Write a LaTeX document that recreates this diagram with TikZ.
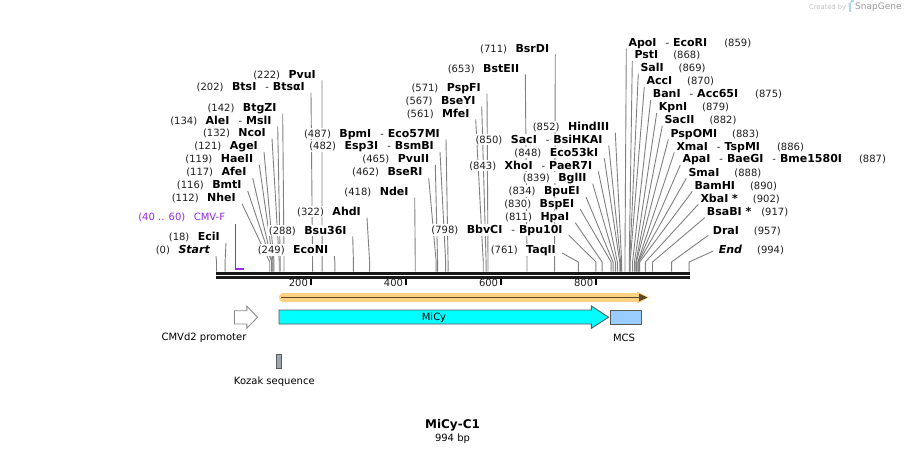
\documentclass[tikz,border=0pt]{standalone}
\usepackage{fontspec}
\setmainfont{DejaVu Sans}
\usetikzlibrary{calc}
\pgfdeclarelayer{bg}
\pgfsetlayers{bg,main}
\definecolor{numc}{RGB}{30,30,30}
\definecolor{leadc}{RGB}{128,128,128}
\definecolor{primc}{RGB}{150,40,230}
\definecolor{featc}{RGB}{90,90,90}
\definecolor{mcsblue}{RGB}{153,204,255}
\definecolor{kozakc}{RGB}{160,166,174}
\definecolor{orfl}{RGB}{255,210,130}
\definecolor{orfd}{RGB}{90,70,40}
\definecolor{micyc}{RGB}{0,255,255}
\definecolor{wmblue}{RGB}{168,216,240}
\newcommand\enz[1]{{\fontsize{11}{12}\selectfont\bfseries\color{black}#1}}
\newcommand\enzsep{\hspace{9pt}-\hspace{4pt}}
\newcommand\lgap{\hspace{8.5pt}}
\newcommand\rgap{\hspace{15pt}}
\tikzset{
  lbl/.style={inner xsep=1pt, inner ysep=1pt, fill=white, text height=8.5pt, text depth=1pt,
    font=\fontsize{10}{12}\selectfont, text=numc},
  lead/.style={draw=leadc, line width=0.9pt},
  feat/.style={draw=featc, line width=0.9pt},
  plain/.style={inner sep=0pt, font=\fontsize{10}{12}\selectfont, text=black}
}
\newcommand\siteL[6]{%
  \coordinate (s#1) at ({216.5+0.4755*#2},271.5);
  \node[lbl,anchor=east] (l#1) at ({#3+1},#4) {#6};
  \begin{pgfonlayer}{bg}
    \draw[lead] ($(l#1.east)+(5,#5)$) -- ($(s#1)+(0,-9.5)$) -- (s#1);
  \end{pgfonlayer}}
\newcommand\siteR[7]{%
  \coordinate (s#1) at ({216.5+0.4755*#2},271.5);
  \node[lbl,anchor=west] (l#1) at ({#3-1},#4) {#7};
  \begin{pgfonlayer}{bg}
    \draw[lead] ($(l#1.west)+(#5,#6)$) -- ($(s#1)+(0,-9.5)$) -- (s#1);
  \end{pgfonlayer}}
\begin{document}
\begin{tikzpicture}[x=1pt,y=-1pt]
\useasboundingbox (0,0) rectangle (906,455);
% watermark
\node[anchor=west, inner sep=0pt, text=black!25, font=\fontsize{6.7}{8}\selectfont] (wm1) at (809,7.3) {Created by};
\fill[wmblue] (848.5,2.5) rectangle (851,12);
\fill[wmblue] (848.5,2.5) -- (852,2.5) arc (90:-90:2.2 and 2.4) -- (848.5,7.3) -- cycle;
\node[anchor=west, inner sep=0pt, text=black!40, font=\fontsize{9}{10}\selectfont] (wm2) at (855,7.3) {SnapGene};
% baseline
\coordinate (b0) at (216,273.2);
\coordinate (b1) at (689.5,273.2);
\coordinate (c0) at (216,277.4);
\coordinate (c1) at (689.5,277.4);
\draw[line width=3pt, black!90] (b0) -- (b1);
\draw[line width=2.6pt, black!90] (c0) -- (c1);
% ticks
\foreach \t in {200,400,600,800}{
  \coordinate (t\t) at ({216.5+0.4755*\t-1},279.3);
  \draw[line width=2pt, black] (t\t) -- ++(0,5.7);
  \node[plain, anchor=east, text=numc] (tl\t) at ($(t\t)+(-2.5,3.6)$) {\t};
}
% left-hand sites
\siteL{a}{0}{210}{250}{6}{(0)\lgap\enz{\itshape Start}}
\siteL{b}{18}{220}{236.7}{6}{(18)\lgap\enz{EciI}}
\siteL{c}{112}{236}{197.7}{6}{(112)\lgap\enz{NheI}}
\siteL{d}{116}{241.7}{185}{6}{(116)\lgap\enz{BmtI}}
\siteL{e}{117}{246.7}{172}{6}{(117)\lgap\enz{AfeI}}
\siteL{f}{119}{253.3}{159}{6}{(119)\lgap\enz{HaeII}}
\siteL{g}{121}{258}{146}{6}{(121)\lgap\enz{AgeI}}
\siteL{h}{132}{266}{132.7}{6}{(132)\lgap\enz{NcoI}}
\siteL{i}{134}{271.7}{120.3}{6}{(134)\lgap\enz{AleI}\enzsep\enz{MslI}}
\siteL{j}{142}{276.7}{107.7}{6}{(142)\lgap\enz{BtgZI}}
\siteL{k}{202}{305}{86.7}{6}{(202)\lgap\enz{BtsI}\enzsep\enz{BtsαI}}
\siteL{l}{222}{316}{74.3}{6}{(222)\lgap\enz{PvuI}}
\siteL{m}{249}{328.3}{250}{6}{(249)\lgap\enz{EcoNI}}
\siteL{n}{288}{346.7}{230.3}{6}{(288)\lgap\enz{Bsu36I}}
\siteL{o}{322}{361}{211.7}{6}{(322)\lgap\enz{AhdI}}
\siteL{p}{418}{408.7}{191.7}{6}{(418)\lgap\enz{NdeI}}
\siteL{q}{462}{422.7}{172}{6}{(462)\lgap\enz{BseRI}}
\siteL{r}{465}{429.3}{159}{6}{(465)\lgap\enz{PvuII}}
\siteL{s}{482}{434}{146}{6}{(482)\lgap\enz{Esp3I}\enzsep\enz{BsmBI}}
\siteL{t}{487}{440}{133.3}{6}{(487)\lgap\enz{BpmI}\enzsep\enz{Eco57MI}}
\siteL{u}{561}{469.7}{113.3}{6}{(561)\lgap\enz{MfeI}}
\siteL{v}{567}{475.7}{100.3}{6}{(567)\lgap\enz{BseYI}}
\siteL{w}{571}{481}{87.7}{6}{(571)\lgap\enz{PspFI}}
\siteL{x}{653}{519.3}{68.3}{6}{(653)\lgap\enz{BstEII}}
\siteL{y}{711}{549.3}{48.3}{6}{(711)\lgap\enz{BsrDI}}
\siteL{z}{761}{556}{250}{3}{(761)\lgap\enz{TaqII}}
\siteL{aa}{798}{562.7}{230}{5}{(798)\lgap\enz{BbvCI}\enzsep\enz{Bpu10I}}
\siteL{ab}{811}{569.3}{216.7}{6}{(811)\lgap\enz{HpaI}}
\siteL{ac}{830}{574.3}{203.3}{6}{(830)\lgap\enz{BspEI}}
\siteL{ad}{834}{580}{191}{6}{(834)\lgap\enz{BpuEI}}
\siteL{ae}{839}{586.7}{177.7}{6}{(839)\lgap\enz{BglII}}
\siteL{af}{843}{592.3}{165.3}{6}{(843)\lgap\enz{XhoI}\enzsep\enz{PaeR7I}}
\siteL{ag}{848}{598.3}{152.3}{6}{(848)\lgap\enz{Eco53kI}}
\siteL{ah}{850}{602.7}{139.3}{6}{(850)\lgap\enz{SacI}\enzsep\enz{BsiHKAI}}
\siteL{ai}{852}{609.3}{126.7}{6}{(852)\lgap\enz{HindIII}}
% right-hand sites
\siteR{ra}{859}{628.3}{42.7}{-1}{6}{\enz{ApoI}\enzsep\enz{EcoRI}\hspace{17pt}(859)}
\siteR{rb}{868}{634.3}{55}{-1}{6}{\enz{PstI}\rgap(868)}
\siteR{rc}{869}{640.3}{67.7}{-1}{6}{\enz{SalI}\rgap(869)}
\siteR{rd}{870}{646.3}{81}{-1}{6}{\enz{AccI}\rgap(870)}
\siteR{re}{875}{652.7}{94}{-1}{6}{\enz{BanI}\enzsep\enz{Acc65I}\hspace{17pt}(875)}
\siteR{rf}{879}{658.7}{107}{-1}{6}{\enz{KpnI}\rgap(879)}
\siteR{rg}{882}{664.3}{119.7}{-1}{6}{\enz{SacII}\rgap(882)}
\siteR{rh}{883}{670.3}{133.3}{-1}{6}{\enz{PspOMI}\rgap(883)}
\siteR{ri}{886}{676.3}{146.3}{-1}{6}{\enz{XmaI}\enzsep\enz{TspMI}\hspace{17pt}(886)}
\siteR{rj}{887}{682.3}{159}{-1}{6}{\enz{ApaI}\enzsep\enz{BaeGI}\enzsep\enz{Bme1580I}\hspace{17pt}(887)}
\siteR{rk}{888}{688.3}{172.3}{-1}{6}{\enz{SmaI}\rgap(888)}
\siteR{rl}{890}{694.3}{185.3}{-1}{6}{\enz{BamHI}\rgap(890)}
\siteR{rm}{902}{700.3}{198.3}{-1}{6}{\enz{XbaI *}\rgap(902)}
\siteR{rn}{917}{706.7}{211.7}{-1}{6}{\enz{BsaBI *}\hspace{10pt}(917)}
\siteR{ro}{957}{712.7}{230.3}{-3.4}{5}{\enz{DraI}\rgap(957)}
\siteR{rp}{994}{718.7}{250}{-4.4}{1}{\enz{\itshape End}\rgap(994)}
% primer CMV-F
\node[lbl, anchor=east, text=primc] (lcmv) at (226.3,216.7) {(40 .. 60)\lgap CMV-F};
\coordinate (p0) at (235.3,224);
\coordinate (p1) at (235.3,269);
\coordinate (p2) at (244.2,268.8);
\coordinate (p3) at (234.7,268.8);
\draw[primc, line width=1.3pt] (p0) -- (p1);
\draw[primc, line width=2pt] (p3) -- (p2);
% ORF arrow
\draw[orfl, line width=8.4pt, line cap=round] (283,297.5) -- (640,297.5);
\fill[orfl] (637,291.3) -- (649,297.5) -- (637,303.7) -- cycle;
\draw[orfd, line width=1.8pt] (281,297.5) -- (641,297.5);
\fill[orfd] (639,293.6) -- (647.5,297.5) -- (639,301.4) -- cycle;
% MiCy feature
\draw[feat, fill=micyc] (279,310) -- (591.4,310) -- (591.4,306) -- (608.6,317.2) -- (591.4,328.3) -- (591.4,324) -- (279,324) -- cycle;
\node[plain] (micy) at (434,317.5) {MiCy};
% MCS
\node[feat, fill=mcsblue, minimum width=31pt, minimum height=14pt, inner sep=0pt] (mcs) at (625.9,317) {};
\node[plain] (mcsl) at (624,337.5) {MCS};
% CMVd2 promoter
\draw[draw=black!45, line width=0.9pt, fill=white] (234.3,310.7) -- (246.8,310.7) -- (246.8,306) -- (257.5,317.3) -- (246.8,328.3) -- (246.8,324) -- (234.3,324) -- cycle;
\node[plain] (cmvl) at (204,337.5) {CMVd2 promoter};
% Kozak
\node[feat, fill=kozakc, minimum width=5.8pt, minimum height=14pt, inner sep=0pt] (koz) at (278.9,361.3) {};
\node[plain] (kozl) at (274.3,381.5) {Kozak sequence};
% title
\node[inner sep=0pt, font=\fontsize{12}{14}\selectfont\bfseries] (title) at (452.5,425) {MiCy-C1};
\node[inner sep=0pt, font=\fontsize{10}{12}\selectfont] (len) at (452.5,439) {994 bp};
\end{tikzpicture}
\end{document}
